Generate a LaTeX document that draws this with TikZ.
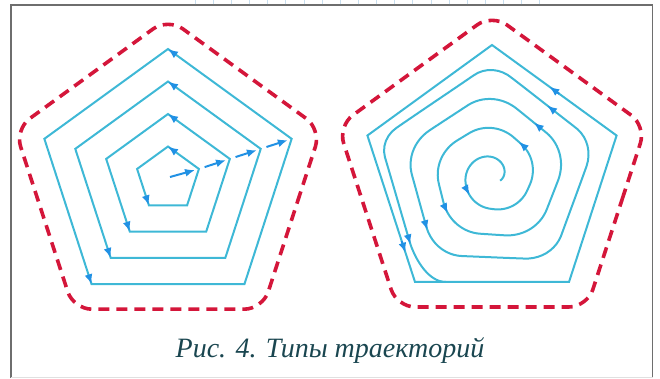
\documentclass[tikz,border=0pt]{standalone}
\usepackage{fontspec}
\setmainfont{Liberation Serif}
\usetikzlibrary{arrows.meta,calc}

\definecolor{trackblue}{RGB}{62,184,214}
\definecolor{tipblue}{RGB}{33,145,228}
\definecolor{borderred}{RGB}{212,22,58}
\definecolor{captionteal}{RGB}{26,70,80}
\definecolor{framegray}{RGB}{110,110,110}
\definecolor{gridblue}{RGB}{200,222,238}

\def \stepr {32.5}    % gap between nested pentagons
\def \outerr {131}    % outer pentagon of the spiral
\def \dashoff {30.9}  % dashed border beyond the outer pentagon

\tikzset{
  trackline/.style={draw=trackblue, line width=2pt},
  tracktip/.style={tipblue, line width=2pt, -{Latex[length=10pt,width=8pt]}},
  dashborder/.style={draw=borderred, line width=3.6pt, dash pattern=on 11pt off 7pt, rounded corners=18.2pt},
}

\begin{document}
\begin{tikzpicture}[x=1pt, y=1pt,
  declare function={
    sg(\t)=19+(\t-90)/360*29;                  % size at the top
    sf(\t)=min(1,max(0.2,1-(\t-150)/1150*0.8)); % share of rounding
    sd(\t)=abs(mod(\t+702,72)-36);             % angle to nearest side normal
    sa(\t)=(1-sf(\t))*cos(36);
    se(\t)=sa(\t)+sf(\t);
    sb(\t)=(1-sf(\t))*sin(36-sd(\t));
    sh(\t)=(se(\t)*tan(sd(\t)) < sa(\t)*tan(36)) ? se(\t)/cos(sd(\t)) : (1-sf(\t))*cos(36-sd(\t))+sqrt(max(0,sf(\t)*sf(\t)-sb(\t)*sb(\t)));
    sr(\t)=sg(\t)*sh(\t);
  }]
\useasboundingbox (0,0) rectangle (660,378);

% frame
\draw[framegray, line width=1.3pt] (11,0) -- (11,373) -- (652.5,373) -- (652.5,0);
\draw[black!12, line width=1pt] (11,1) -- (652.5,1);
\foreach \gx in {0,...,19}
  \draw[gridblue, line width=0.8pt] ({195+18.15*\gx},373.6) -- ++(0,4.4);

% left: nested pentagons
\coordinate (ca) at (168,199);
\foreach \k in {1,...,4}
  \foreach \j in {0,...,4}
    \coordinate (p\k-\j) at ($(ca)+({18+72*\j}:{\stepr*\k})$);
\foreach \j in {0,...,4}
  \coordinate (da-\j) at ($(ca)+({18+72*\j}:{\stepr*4+\dashoff})$);
\draw[dashborder] ($(da-4)!0.5!(da-0)$) -- (da-0) -- (da-1) -- (da-2) -- (da-3) -- (da-4) -- cycle;
\foreach \k in {1,...,4}{
  \draw[trackline] (p\k-0) -- (p\k-1) -- (p\k-2) -- (p\k-3) -- (p\k-4) -- cycle;
  \draw[tracktip] ($(p\k-1)!9pt!(p\k-0)$) -- (p\k-1); % up to the top
  \draw[tracktip] ($(p\k-3)!9pt!(p\k-2)$) -- (p\k-3); % down the left side
}
\draw[tracktip, shorten >=4pt] ($(ca)+(2,2)$) -- (p1-0);
\foreach \k [evaluate=\k as \n using int(\k+1)] in {1,2,3}
  \draw[tracktip, shorten <=6pt, shorten >=4pt] (p\k-0) -- (p\n-0);

% right: spiral into the outer pentagon
\coordinate (cb) at (492,202);
\foreach \j in {0,...,4}{
  \coordinate (q-\j) at ($(cb)+({18+72*\j}:\outerr)$);
  \coordinate (db-\j) at ($(cb)+({18+72*\j}:{\outerr+\dashoff})$);
}
\coordinate (qm) at ($(q-3)!0.2!(q-4)$); % spiral joins the bottom side
\draw[dashborder] ($(db-4)!0.5!(db-0)$) -- (db-0) -- (db-1) -- (db-2) -- (db-3) -- (db-4) -- cycle;
\draw[trackline] (q-0) -- (q-1) -- (q-2) -- (q-3) -- (q-4) -- cycle;
\draw[tracktip] ($(q-0)!0.46!(q-1)$) -- ($(q-0)!0.54!(q-1)$);
\draw[tracktip] ($(q-2)!0.72!(q-3)$) -- ($(q-2)!0.80!(q-3)$);
\begin{scope}[shift={(cb)}]
  \draw[trackline, line join=round] plot[domain=-30:1300, samples=480, variable=\t] (\t:{sr(\t)})
    .. controls +(-71:17) and +(180:17) .. (qm);
  \foreach \a in {220,412,580,772,940,1132,1300}
    \draw[tracktip] ({\a-5}:{sr(\a-5)}) -- (\a:{sr(\a)});
\end{scope}

\node[captionteal, font=\fontsize{28}{30}\selectfont\itshape, anchor=base] (caption) at (330,21) {Рис. 4. Типы траекторий};
\end{tikzpicture}
\end{document}
